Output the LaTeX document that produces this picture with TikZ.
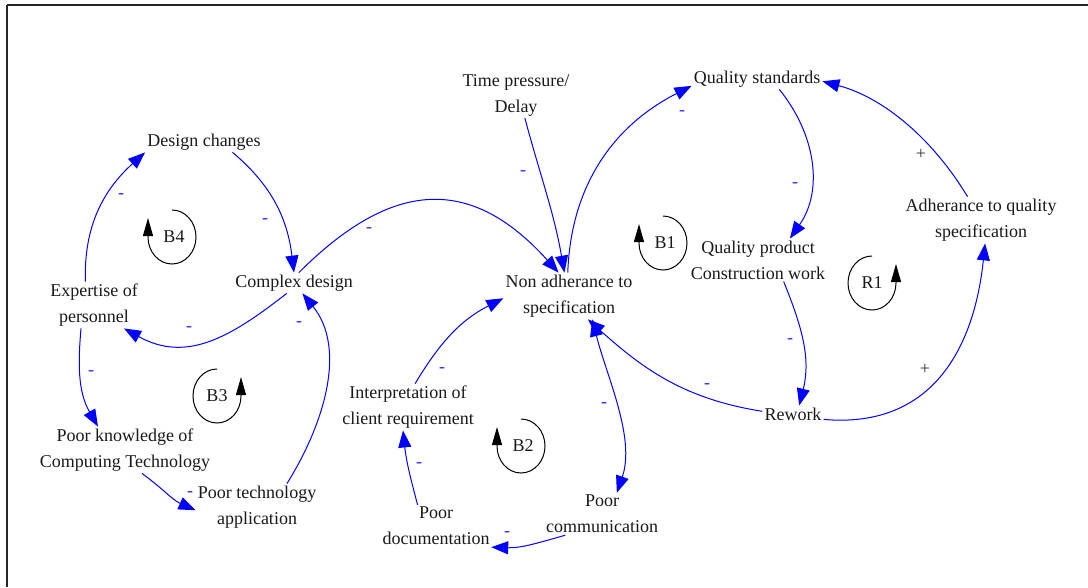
\documentclass[tikz,border=0pt]{standalone}
\usepackage{fontspec}
\setmainfont{Liberation Serif}
\usetikzlibrary{arrows.meta}
\begin{document}
\begin{tikzpicture}[x=1pt,y=-1pt,
  var/.style={align=center, inner sep=2pt, font=\fontsize{18}{26}\selectfont, text=black!90},
  link/.style={draw=blue, line width=1pt, -{Triangle[length=17pt,width=13pt]}},
  bilink/.style={draw=blue, line width=1pt, {Triangle[length=17pt,width=13pt]}-{Triangle[length=17pt,width=13pt]}},
  pol/.style={inner sep=0pt, font=\fontsize{18}{18}\selectfont, text=blue!85!white},
  plus/.style={inner sep=0pt, font=\fontsize{18}{18}\selectfont, text=black!80},
  loopar/.style={draw=black, line width=1pt, -{Triangle[length=18pt,width=10pt]}},
  looplbl/.style={inner sep=0pt, font=\fontsize{18}{18}\selectfont, text=black!90}
]
\useasboundingbox (0,0) rectangle (1088,587);
% frame
\draw[line width=2pt, black!85] (7,5) -- (1088,5);
\draw[line width=2pt, black!85] (7,5) -- (7,587);

% variables
\node[var] (dc)  at (204,142) {Design changes};
\node[var] (cd)  at (294,283) {Complex design};
\node[var] (exp) at (94,305)  {Expertise of\\personnel};
\node[var] (pk)  at (125,450) {Poor knowledge of\\Computing Technology};
\node[var] (pt)  at (257,507) {Poor technology\\application};
\node[var] (tp)  at (516,95)  {Time pressure/\\Delay};
\node[var] (na)  at (569,296) {Non adherance to\\specification};
\node[var] (qs)  at (757,79)  {Quality standards};
\node[var] (qp)  at (758,260) {Quality product\\Construction work};
\node[var] (adh) at (981,220) {Adherance to quality\\specification};
\node[var] (rw)  at (793,414) {Rework};
\node[var] (int) at (408,407) {Interpretation of\\client requirement};
\node[var] (pd)  at (436,526) {Poor\\documentation};
\node[var] (pc)  at (602,514) {Poor\\communication};

% links
\draw[link] (exp.110) to[out=92,in=222] (dc.190);
\draw[link] (dc.-20) to[out=-40,in=97] (cd.north);
\draw[link] (cd.65) to[out=45,in=132,looseness=1.3] (na.114);
\draw[link] (cd.235) to[out=218,in=-29,looseness=1.1] (exp.-38);
\draw[link] (exp.241) to[out=265,in=120] (pk.139);
\draw[link] (pk.-54) to[out=-36,in=156] (pt.183);
\draw[link] (pt.38) to[out=58,in=-51,looseness=0.95] (cd.-51);
\draw[link] (tp.-69) to[out=-75,in=100] (na.101);
\draw[link] (na.93) to[out=88,in=207] (qs.186);
\draw[link] (qs.-25) to[out=-51,in=55] (qp.34);
\draw[link] (adh.120) to[out=121,in=-15,looseness=0.9] (qs.-2);
\draw[link] (qp.-40) to[out=-68,in=76] (rw.54);
\draw[link] (rw.-10) to[out=-5,in=-96,looseness=1.15] (adh.-80);
\draw[link] (rw.175) to[out=171,in=-42] (na.-51);
\draw[bilink] (na.-45) to[out=-76,in=71,looseness=0.85] (pc.55);
\draw[link] (pc.210) to[out=196,in=-2] (pd.-21);
\draw[link] (pd.131) to[out=105,in=-84] (int.258);
\draw[link] (int.73) to[out=59,in=207] (na.182);

% polarities
\node[pol] (p1)  at (121,196) {-};
\node[pol] (p2)  at (265,221) {-};
\node[pol] (p3)  at (369,230) {-};
\node[pol] (p4)  at (189,329) {-};
\node[pol] (p5)  at (91,373)  {-};
\node[pol] (p6)  at (190,494) {-};
\node[pol] (p7)  at (299,324) {-};
\node[pol] (p8)  at (523,173) {-};
\node[pol] (p9)  at (682,113) {-};
\node[pol] (p10) at (795,185) {-};
\node[plus] (p11) at (921,154) {+};
\node[pol] (p12) at (790,341) {-};
\node[plus] (p13) at (925,369) {+};
\node[pol] (p14) at (707,386) {-};
\node[pol] (p15) at (604,405) {-};
\node[pol] (p16) at (507,534) {-};
\node[pol] (p17) at (419,465) {-};
\node[pol] (p18) at (442,370) {-};

% loop markers (clockwise: B4, B1, B2; counter-clockwise: B3, R1)
\draw[loopar] (172,210) arc[start angle=90,end angle=-180,x radius=24pt,y radius=27pt] -- ++(0pt,19pt);
\node[looplbl] (b4) at (174,237) {B4};
\draw[loopar] (663,216) arc[start angle=90,end angle=-180,x radius=24pt,y radius=27pt] -- ++(0pt,19pt);
\node[looplbl] (b1) at (665,243) {B1};
\draw[loopar] (521,419) arc[start angle=90,end angle=-180,x radius=24pt,y radius=27pt] -- ++(0pt,19pt);
\node[looplbl] (b2) at (523,446) {B2};
\draw[loopar] (217,369) arc[start angle=90,end angle=360,x radius=24pt,y radius=27pt] -- ++(0pt,19pt);
\node[looplbl] (b3) at (217,396) {B3};
\draw[loopar] (872,256) arc[start angle=90,end angle=360,x radius=24pt,y radius=27pt] -- ++(0pt,19pt);
\node[looplbl] (r1) at (872,283) {R1};
\end{tikzpicture}
\end{document}
